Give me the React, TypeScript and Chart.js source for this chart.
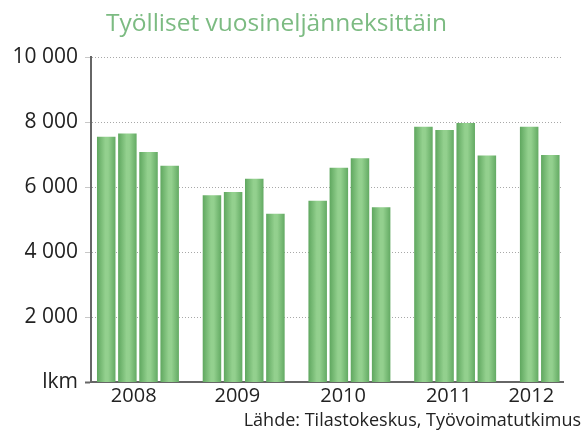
import React, { useEffect, useRef } from "react";
import { Chart, registerables } from "chart.js";

Chart.register(...registerables);

const titleText = "Työlliset vuosineljänneksittäin";
const sourceText = "Lähde: Tilastokeskus, Työvoimatutkimus";
const years = ["2008", "2009", "2010", "2011", "2012"];
const q2008 = [7550, 7650, 7080, 6660];
const q2009 = [5750, 5850, 6260, 5180];
const q2010 = [5580, 6600, 6890, 5380];
const q2011 = [7860, 7760, 7970, 6970];
const q2012 = [7860, 6990];
const quartersByYear = [q2008, q2009, q2010, q2011, q2012];
const yTickValues = [0, 2000, 4000, 6000, 8000, 10000];
const zeroLabel = "lkm";
const yearLabelPos = [1.3, 6.2, 11.2, 16.2, 20.1];
const slotsPerYear = 5;

const fmt = (v: number) => String(v).replace(/\B(?=(\d{3})+(?!\d))/g, " ");

const titlePlugin = {
  id: "leftTitle",
  afterDraw(chart: any) {
    const ctx = chart.ctx;
    ctx.save();
    ctx.font = "normal 24.5px 'Open Sans'";
    ctx.fillStyle = "#7cbb82";
    ctx.textAlign = "center";
    ctx.textBaseline = "alphabetic";
    ctx.fillText(titleText, 276.5, 31);
    ctx.restore();
  },
};

export default function App() {
  const ref = useRef<HTMLCanvasElement | null>(null);
  useEffect(() => {
    if (!ref.current) return;
    const points = quartersByYear.flatMap((vals, i) =>
      vals.map((v, q) => ({ x: i * slotsPerYear + q, y: v }))
    );
    const barPct = 0.875;
    const chart = new Chart(ref.current, {
      type: "bar",
      data: {
        datasets: [
          {
            data: points as any,
            categoryPercentage: 1,
            barPercentage: barPct,
            borderWidth: 0,
            backgroundColor: (ctx: any) => {
              const c = ctx.chart;
              const xs = c.scales && c.scales.x;
              if (ctx.type !== "data" || !xs || !c.chartArea) return "#7fc27c";
              const cx = xs.getPixelForValue(ctx.raw.x);
              const w = (xs.getPixelForValue(1) - xs.getPixelForValue(0)) * barPct;
              const g = c.ctx.createLinearGradient(cx - w / 2, 0, cx + w / 2, 0);
              g.addColorStop(0, "#5fa75f");
              g.addColorStop(0.45, "#93d08e");
              g.addColorStop(0.6, "#93d08e");
              g.addColorStop(1, "#63aa63");
              return g;
            },
          },
        ],
      },
      plugins: [titlePlugin],
      options: {
        responsive: false,
        animation: false,
        layout: { padding: { left: 0, right: 0, top: 57, bottom: 2 } },
        plugins: {
          legend: { display: false },
          tooltip: { enabled: false },
          title: { display: false },
          subtitle: {
            display: true,
            text: sourceText,
            position: "bottom",
            align: "end",
            color: "#222",
            font: { family: "'Open Sans'", size: 18, weight: "normal" },
            padding: { top: 0, bottom: 0 },
          },
        },
        scales: {
          x: {
            type: "linear",
            offset: false,
            min: -0.72,
            max: 21.6,
            afterBuildTicks: (scale: any) => {
              scale.ticks = yearLabelPos.map((v) => ({ value: v }));
            },
            ticks: {
              autoSkip: false,
              maxRotation: 0,
              color: "#222",
              padding: 2,
              font: { family: "'Open Sans'", size: 20 },
              callback: (_v: any, i: number) => years[i],
            },
            grid: { display: false, drawTicks: false },
            border: { display: true, color: "#666", width: 2 },
          },
          y: {
            min: 0,
            max: 10000,
            afterBuildTicks: (scale: any) => {
              scale.ticks = yTickValues.map((v) => ({ value: v }));
            },
            afterFit: (scale: any) => {
              scale.width = 91;
            },
            ticks: {
              color: "#222",
              padding: 7,
              font: { family: "'Open Sans'", size: 21 },
              callback: (v: any) => (v === 0 ? zeroLabel : fmt(v)),
            },
            grid: {
              color: (ctx: any) => (ctx.tick && ctx.tick.value === 0 ? "rgba(0,0,0,0)" : "#a8a8a8"),
              lineWidth: 1,
              tickLength: 6,
              tickColor: (ctx: any) => (ctx.tick && ctx.tick.value === 0 ? "#666" : "#c8c8c8"),
              tickWidth: (ctx: any) => (ctx.tick && ctx.tick.value === 0 ? 2 : 1),
            },
            border: { display: true, color: "#666", width: 2, dash: [1, 2] },
          },
          yRightSpace: {
            position: "right",
            display: true,
            min: 0,
            max: 1,
            afterFit: (scale: any) => {
              scale.width = 18;
            },
            ticks: { display: false },
            grid: { display: false, drawTicks: false },
            border: { display: false },
          },
        },
      } as any,
    });
    return () => chart.destroy();
  }, []);
  return (
    <div style={{ position: "fixed", left: 0, top: 0, width: 581, height: 434, background: "#fff" }}>
      <canvas ref={ref} width={581} height={434} />
    </div>
  );
}
